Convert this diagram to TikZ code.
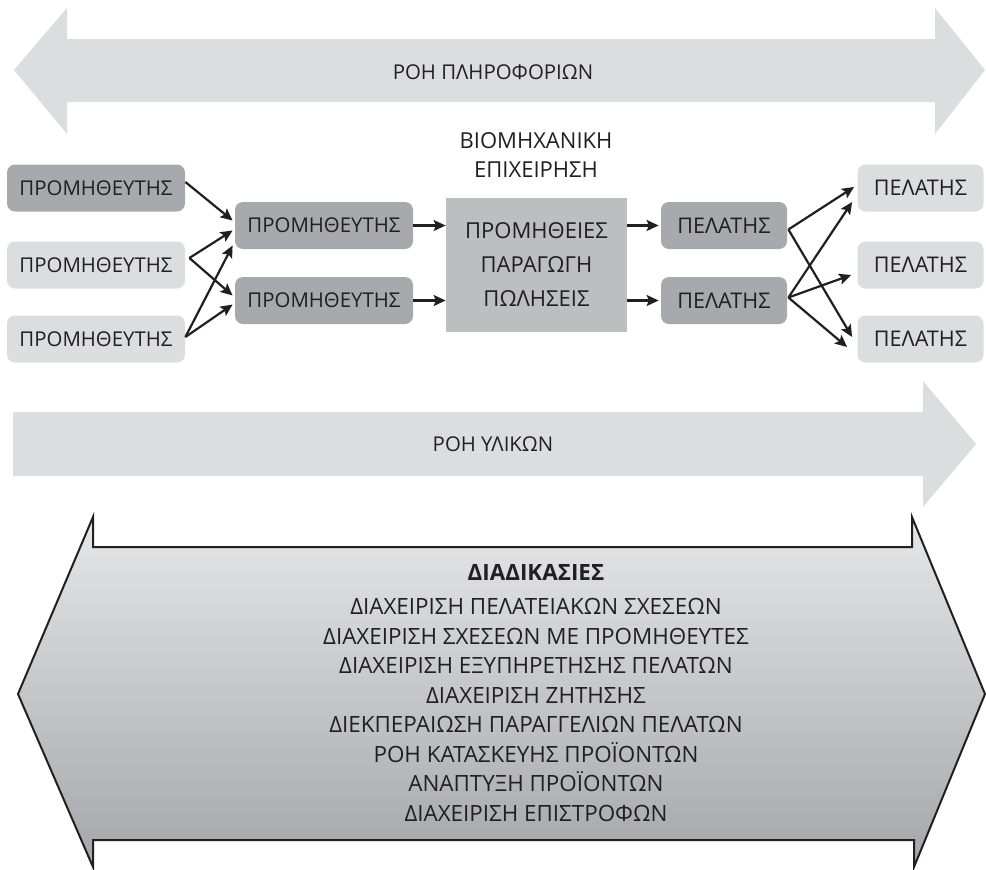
\documentclass[tikz,border=0pt]{standalone}
\usepackage{fontspec}
\setmainfont{Open Sans}
\usetikzlibrary{arrows.meta, calc}
\definecolor{flowgray}{HTML}{DCDDDF}
\definecolor{boxlight}{HTML}{DCDDDF}
\definecolor{boxdark}{HTML}{A7A9AC}
\definecolor{corebox}{HTML}{BCBEC0}
\definecolor{inkcol}{HTML}{231F20}
\definecolor{shadetop}{HTML}{E6E7E8}
\definecolor{shadebot}{HTML}{A4A6A9}

\begin{document}
\begin{tikzpicture}[
  x=0.5pt, y=-0.5pt,
  box/.style={rectangle, rounded corners=4pt,
              minimum height=23.5pt, inner sep=0pt,
              text=inkcol, font=\fontsize{10.2}{12}\selectfont},
  sup/.style={box, minimum width=89pt},
  cli/.style={box, minimum width=63pt, font=\fontsize{10.8}{12}\selectfont},
  lbl/.style={text=inkcol, font=\fontsize{11}{14.5}\selectfont, align=center},
  arr/.style={-{Stealth[length=6pt, width=5.5pt, inset=1.2pt]}, line width=1.1pt, color=inkcol}
]
  \useasboundingbox (0,0) rectangle (986,869);

  % Information flow (double arrow)
  \fill[flowgray] (14,70) -- (67,8) -- (67,39) -- (935,39) -- (935,8) -- (985,70)
    -- (935,134) -- (935,102) -- (67,102) -- (67,134) -- cycle;
  \node[lbl, font=\fontsize{10.2}{12}\selectfont] (info) at (493,72) {ΡΟΗ ΠΛΗΡΟΦΟΡΙΩΝ};

  % Material flow
  \fill[flowgray] (13,412) -- (923,412) -- (923,381) -- (976,444)
    -- (923,507) -- (923,476) -- (13,476) -- cycle;
  \node[lbl, font=\fontsize{10.2}{12}\selectfont] (mat) at (493,444) {ΡΟΗ ΥΛΙΚΩΝ};

  % Processes
  \shade[top color=shadetop, bottom color=shadebot, draw=inkcol, line width=1pt]
    (93,517) -- (93,547) -- (912,547) -- (912,517) -- (985,694) -- (914,867)
    -- (914,840) -- (93,840) -- (93,867) -- (18,694) -- cycle;
  \node[lbl, font=\fontsize{11.2}{14.75}\selectfont] (proc) at (536,693)
    {\textbf{ΔΙΑΔΙΚΑΣΙΕΣ}\\[2.5pt]
     ΔΙΑΧΕΙΡΙΣΗ ΠΕΛΑΤΕΙΑΚΩΝ ΣΧΕΣΕΩΝ\\
     ΔΙΑΧΕΙΡΙΣΗ ΣΧΕΣΕΩΝ ΜΕ ΠΡΟΜΗΘΕΥΤΕΣ\\
     ΔΙΑΧΕΙΡΙΣΗ ΕΞΥΠΗΡΕΤΗΣΗΣ ΠΕΛΑΤΩΝ\\
     ΔΙΑΧΕΙΡΙΣΗ ΖΗΤΗΣΗΣ\\
     ΔΙΕΚΠΕΡΑΙΩΣΗ ΠΑΡΑΓΓΕΛΙΩΝ ΠΕΛΑΤΩΝ\\
     ΡΟΗ ΚΑΤΑΣΚΕΥΗΣ ΠΡΟΪΟΝΤΩΝ\\
     ΑΝΑΠΤΥΞΗ ΠΡΟΪΟΝΤΩΝ\\
     ΔΙΑΧΕΙΡΙΣΗ ΕΠΙΣΤΡΟΦΩΝ};

  % Suppliers
  \node[sup, fill=boxdark]  (s1) at (96,188) {ΠΡΟΜΗΘΕΥΤΗΣ};
  \node[sup, fill=boxlight] (s2) at (96,265) {ΠΡΟΜΗΘΕΥΤΗΣ};
  \node[sup, fill=boxlight] (s3) at (96,339) {ΠΡΟΜΗΘΕΥΤΗΣ};
  \node[sup, fill=boxdark]  (t1) at (324,225.5) {ΠΡΟΜΗΘΕΥΤΗΣ};
  \node[sup, fill=boxdark]  (t2) at (324,300.5) {ΠΡΟΜΗΘΕΥΤΗΣ};

  % Company
  \node[lbl] (firm) at (536,155) {ΒΙΟΜΗΧΑΝΙΚΗ\\ΕΠΙΧΕΙΡΗΣΗ};
  \node[rectangle, fill=corebox, minimum width=90.5pt, minimum height=67pt,
        text=inkcol, align=center, font=\fontsize{11}{17}\selectfont]
        (core) at (536.5,265) {ΠΡΟΜΗΘΕΙΕΣ\\ΠΑΡΑΓΩΓΗ\\ΠΩΛΗΣΕΙΣ};

  % Customers
  \node[cli, fill=boxdark]  (c1) at (724,225.5) {ΠΕΛΑΤΗΣ};
  \node[cli, fill=boxdark]  (c2) at (724,300.5) {ΠΕΛΑΤΗΣ};
  \node[cli, fill=boxlight] (d1) at (920.5,188) {ΠΕΛΑΤΗΣ};
  \node[cli, fill=boxlight] (d2) at (920.5,265) {ΠΕΛΑΤΗΣ};
  \node[cli, fill=boxlight] (d3) at (920.5,339) {ΠΕΛΑΤΗΣ};

  % Arrows
  \draw[arr] ($(s1.east)+(0,-6)$) -- ($(t1.west)+(-2,-5)$);
  \draw[arr] ($(s2.east)+(4,-7)$) -- ($(t1.west)+(-2,5)$);
  \draw[arr] ($(s2.east)+(4,-7)$) -- ($(t2.west)+(-2,-5)$);
  \draw[arr] ($(s3.east)+(0,-2)$) -- ($(t1.west)+(-2,20)$);
  \draw[arr] ($(s3.east)+(0,-2)$) -- ($(t2.west)+(-2,4)$);
  \draw[arr] (t1.east) -- (t1.east -| core.west);
  \draw[arr] (t2.east) -- (t2.east -| core.west);
  \draw[arr] (core.east |- c1.west) -- ($(c1.west)+(-2,0)$);
  \draw[arr] (core.east |- c2.west) -- ($(c2.west)+(-2,0)$);
  \draw[arr] ($(c1.east)+(1,4)$) -- ($(d1.west)+(-3,-1)$);
  \draw[arr] ($(c1.east)+(1,4)$) -- ($(d3.west)+(-5,-2)$);
  \draw[arr] ($(c2.east)+(1,-3)$) -- ($(d1.west)+(-5,14)$);
  \draw[arr] ($(c2.east)+(1,-3)$) -- ($(d2.west)+(-6,10)$);
  \draw[arr] ($(c2.east)+(1,-3)$) -- ($(d3.west)+(-10,8)$);
\end{tikzpicture}
\end{document}
